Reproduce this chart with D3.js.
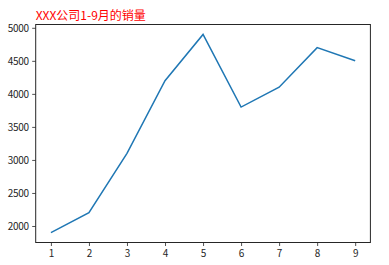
<!DOCTYPE html>
<html><head><meta charset="utf-8">
<script src="https://cdn.jsdelivr.net/npm/d3@7"></script>
<style>body{margin:0;background:#fff}svg{display:block}</style>
</head><body>
<script>
const months = [1,2,3,4,5,6,7,8,9];
const sales = [1900,2200,3100,4200,4900,3800,4100,4700,4500];
const yTicks = [2000,2500,3000,3500,4000,4500,5000];
const title = "XXX公司1-9月的销量";

const W=389,H=265;
const m={l:35.7,r:370.4,t:24.5,b:242.5};
const svg=d3.select("body").append("svg").attr("width",W).attr("height",H);
const x=d3.scaleLinear().domain([1-0.4,9+0.4]).range([m.l,m.r]);
const y=d3.scaleLinear().domain([1750,5050]).range([m.b,m.t]);
const font="'Noto Sans CJK SC','DejaVu Sans',sans-serif";

const xa=svg.append("g").attr("transform",`translate(0,${m.b})`)
  .call(d3.axisBottom(x).tickValues(months).tickFormat(d3.format("d")).tickSize(3.5).tickPadding(3.5).tickSizeOuter(0));
const ya=svg.append("g").attr("transform",`translate(${m.l},0)`)
  .call(d3.axisLeft(y).tickValues(yTicks).tickFormat(d3.format("d")).tickSize(3.5).tickPadding(3.5).tickSizeOuter(0));
[xa,ya].forEach(a=>{a.select(".domain").remove();a.selectAll("text").attr("font-family",font).attr("font-size",10).attr("fill","#262626");a.selectAll("line").attr("stroke","#262626").attr("stroke-width",0.8);});
ya.selectAll("text").attr("letter-spacing",-0.3);

svg.append("rect").attr("x",m.l).attr("y",m.t).attr("width",m.r-m.l).attr("height",m.b-m.t)
  .attr("fill","none").attr("stroke","#262626").attr("stroke-width",1);

svg.append("path").datum(months.map((d,i)=>[d,sales[i]]))
  .attr("d",d3.line().x(d=>x(d[0])).y(d=>y(d[1])))
  .attr("fill","none").attr("stroke","#1f77b4").attr("stroke-width",1.5);

svg.append("text").attr("x",m.l).attr("y",m.t-5).attr("font-family",font).attr("font-size",12)
  .attr("fill","#ff0000").text(title);
</script>
</body></html>
